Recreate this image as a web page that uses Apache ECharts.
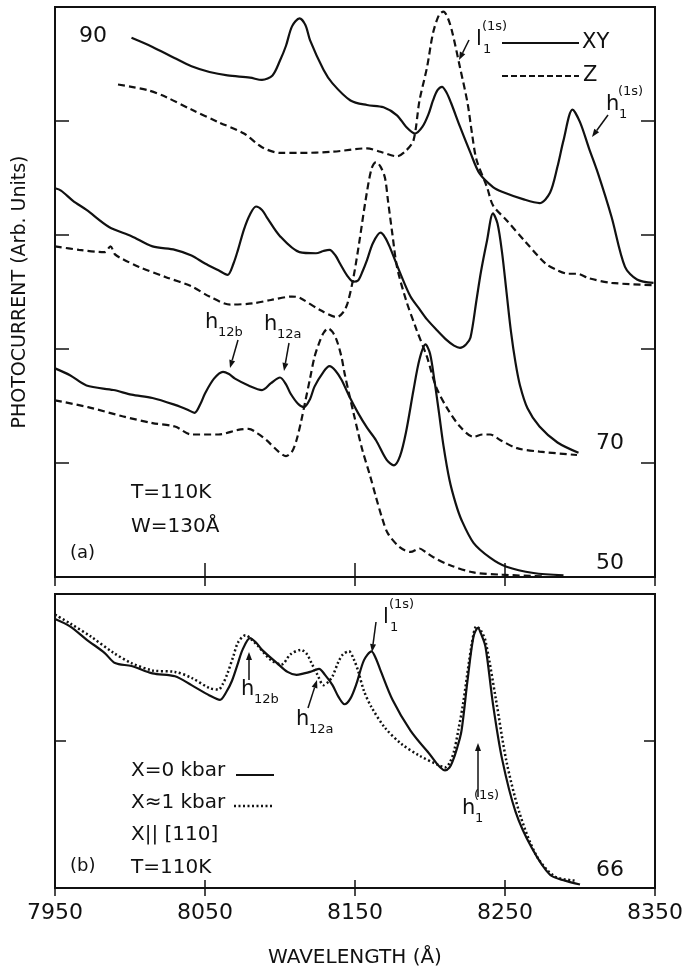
<!DOCTYPE html>
<html>
<head>
<meta charset="utf-8">
<script src="https://cdn.jsdelivr.net/npm/echarts@6/dist/echarts.min.js"></script>
<style>
html,body{margin:0;padding:0;background:#fff;}
#chartWrap{width:685px;height:968px;}
</style>
</head>
<body>
<div id="chartWrap"></div>
<script>
// wavelength axis (Å)
var xMin = 7950, xMax = 8350, xStep = 100;

// panel (a): photocurrent, XY (solid) and Z (dashed) for W = 90, 70, 50
var xy90 = [[8001,47.3],[8015,46.5],[8030,45.5],[8041,44.8],[8053,44.3],[8065,44.0],[8080,43.8],[8088,43.6],[8095,44.0],[8100,45.3],[8104,46.6],[8108,48.3],[8113,49.0],[8117,48.4],[8120,47.1],[8129,44.5],[8135,43.3],[8147,41.8],[8158,41.4],[8169,41.2],[8178,40.5],[8184,39.5],[8190,38.9],[8195,39.5],[8199,40.6],[8202,41.8],[8205,42.7],[8208,43.0],[8211,42.5],[8214,41.6],[8220,39.5],[8227,37.2],[8233,35.4],[8242,34.2],[8248,33.8],[8263,33.1],[8273,32.8],[8280,33.7],[8285,36.0],[8289,38.3],[8295,41.0],[8300,39.9],[8306,37.6],[8312,35.4],[8321,31.6],[8330,27.2],[8338,26.1],[8349,25.8]];
var z90 = [[7992,43.2],[8001,43.0],[8012,42.7],[8024,42.1],[8041,41.0],[8059,39.9],[8076,38.9],[8088,37.7],[8100,37.2],[8113,37.2],[8135,37.3],[8158,37.6],[8167,37.3],[8178,36.9],[8184,37.4],[8189,38.3],[8193,41.8],[8198,44.7],[8202,47.7],[8206,49.3],[8209,49.6],[8212,49.0],[8215,47.7],[8220,44.7],[8225,41.6],[8228,38.9],[8231,36.6],[8238,34.2],[8242,32.6],[8251,31.3],[8263,29.5],[8277,27.5],[8285,26.9],[8292,26.6],[8298,26.6],[8306,26.2],[8321,25.8],[8349,25.6]];
var xy70 = [[7950,34.1],[7954,33.9],[7962,33.0],[7971,32.2],[7986,30.7],[8001,29.9],[8015,29.0],[8030,28.7],[8041,28.2],[8050,27.5],[8059,26.9],[8065,26.5],[8069,27.5],[8072,28.7],[8076,30.5],[8080,31.8],[8084,32.5],[8088,32.2],[8091,31.6],[8100,29.9],[8113,28.5],[8124,28.4],[8129,28.6],[8133,28.7],[8137,28.2],[8140,27.5],[8145,26.4],[8149,25.9],[8152,26.0],[8155,26.8],[8158,27.8],[8162,29.3],[8167,30.2],[8170,29.8],[8173,29.0],[8180,26.7],[8187,24.6],[8193,23.5],[8198,22.6],[8205,21.6],[8211,20.8],[8216,20.3],[8220,20.1],[8224,20.4],[8227,21.0],[8231,24.3],[8234,26.8],[8238,29.5],[8242,31.9],[8245,31.0],[8248,28.5],[8251,25.0],[8254,21.5],[8257,18.8],[8260,16.8],[8265,14.8],[8273,13.2],[8285,11.8],[8299,10.9]];
var z70 = [[7950,29.0],[7966,28.7],[7983,28.5],[7987,29.0],[7990,28.3],[7995,27.9],[8006,27.2],[8024,26.3],[8041,25.5],[8053,24.6],[8067,23.9],[8082,24.0],[8094,24.3],[8108,24.6],[8113,24.5],[8127,23.4],[8138,22.8],[8142,23.2],[8145,24.0],[8149,26.3],[8153,29.5],[8157,33.0],[8161,35.8],[8164,36.4],[8167,36.0],[8170,35.0],[8172,33.0],[8175,30.0],[8178,27.2],[8184,24.3],[8191,21.7],[8198,19.3],[8204,16.7],[8211,14.9],[8220,13.2],[8229,12.3],[8235,12.5],[8240,12.5],[8247,12.0],[8258,11.3],[8273,11.0],[8298,10.7]];
var xy50 = [[7950,18.3],[7960,17.7],[7971,16.8],[7989,16.4],[8001,16.0],[8015,15.7],[8030,15.1],[8038,14.7],[8043,14.4],[8047,15.2],[8050,16.1],[8056,17.4],[8062,18.0],[8066,17.8],[8070,17.4],[8079,16.8],[8088,16.4],[8094,17.0],[8100,17.5],[8104,16.9],[8107,16.1],[8112,15.2],[8116,14.9],[8120,15.6],[8123,16.7],[8129,18.0],[8133,18.5],[8137,18.1],[8141,17.3],[8146,15.9],[8152,14.4],[8158,13.1],[8164,12.0],[8171,10.3],[8176,9.8],[8180,10.6],[8184,12.7],[8189,16.4],[8193,19.1],[8197,20.4],[8200,19.6],[8203,17.2],[8206,14.4],[8209,11.5],[8213,8.5],[8217,6.5],[8221,5.0],[8229,3.0],[8240,1.7],[8251,0.9],[8269,0.35],[8289,0.15]];
var z50 = [[7950,15.5],[7972,14.9],[7995,14.1],[8015,13.5],[8030,13.2],[8041,12.5],[8059,12.5],[8072,12.9],[8079,13.0],[8085,12.6],[8091,12.0],[8099,11.0],[8104,10.6],[8108,11.0],[8111,12.0],[8114,13.6],[8117,15.5],[8120,17.4],[8123,19.3],[8126,20.5],[8129,21.4],[8132,21.8],[8135,21.5],[8138,20.7],[8141,19.3],[8143,17.9],[8146,16.1],[8149,14.4],[8152,12.7],[8155,11.1],[8160,8.9],[8164,7.0],[8168,5.2],[8172,3.8],[8180,2.6],[8187,2.2],[8193,2.5],[8197,2.2],[8202,1.75],[8213,1.05],[8229,0.4],[8248,0.2],[8277,0.05]];

// panel (b): X = 0 kbar (solid), X ≈ 1 kbar (dotted)
var bar0 = [[7950,18.3],[7960,17.8],[7971,16.9],[7983,16.0],[7990,15.3],[8001,15.1],[8015,14.6],[8030,14.4],[8041,13.8],[8053,13.1],[8060,12.8],[8064,13.3],[8068,14.1],[8072,15.3],[8075,16.2],[8080,17.0],[8084,16.7],[8088,16.2],[8098,15.3],[8105,14.7],[8111,14.5],[8116,14.6],[8120,14.7],[8126,14.9],[8130,14.5],[8135,13.8],[8139,13.0],[8143,12.5],[8147,12.9],[8151,13.9],[8156,15.5],[8161,16.1],[8164,15.6],[8167,14.8],[8175,12.8],[8187,10.7],[8199,9.2],[8210,8.0],[8213,8.2],[8215,8.6],[8218,9.5],[8221,10.7],[8225,14.1],[8229,17.1],[8232,17.7],[8234,17.3],[8237,16.4],[8242,12.5],[8248,8.8],[8257,5.2],[8268,2.7],[8280,0.9],[8290,0.5],[8300,0.24]];
var bar1 = [[7950,18.6],[7960,18.0],[7974,17.1],[7989,16.0],[8001,15.3],[8015,14.8],[8030,14.7],[8041,14.3],[8053,13.6],[8059,13.5],[8062,13.9],[8065,14.6],[8069,15.8],[8072,16.7],[8077,17.2],[8081,16.9],[8085,16.5],[8094,15.5],[8101,15.2],[8107,15.9],[8114,16.2],[8118,15.9],[8121,15.3],[8125,14.5],[8129,13.8],[8132,14.0],[8135,14.4],[8139,15.4],[8142,15.9],[8146,16.1],[8149,15.6],[8152,14.8],[8156,13.4],[8161,12.3],[8170,10.9],[8181,9.8],[8193,9.0],[8205,8.4],[8210,8.2],[8213,8.5],[8216,9.3],[8219,10.8],[8222,12.5],[8228,16.7],[8231,17.8],[8234,17.5],[8237,16.8],[8244,12.8],[8251,8.6],[8260,5.0],[8271,2.2],[8283,0.8],[8297,0.5]];

var ink = '#111';
var fontFam = '"DejaVu Sans", sans-serif';

function txt(x, y, s, size, align) {
	return {
		type: 'text', x: x, y: y, silent: true,
		style: { text: s, font: size + 'px ' + fontFam, fill: ink, align: align || 'left', verticalAlign: 'middle' }
	};
}

// arrow from (x1,y1) to head at (x2,y2)
function arrow(x1, y1, x2, y2) {
	var dx = x2 - x1, dy = y2 - y1;
	var len = Math.sqrt(dx * dx + dy * dy);
	var ux = dx / len, uy = dy / len;
	var hl = 8, hw = 3;
	var bx = x2 - ux * hl, by = y2 - uy * hl;
	return [{
		type: 'line', silent: true,
		shape: { x1: x1, y1: y1, x2: bx, y2: by },
		style: { stroke: ink, lineWidth: 1.5 }
	}, {
		type: 'polygon', silent: true,
		shape: { points: [[x2, y2], [bx - uy * hw, by + ux * hw], [bx + uy * hw, by - ux * hw]] },
		style: { fill: ink }
	}];
}

// h / l with subscript and superscript
function label(x, y, main, sub, sup) {
	var w = main == 'l' ? 7 : 13;
	var out = [txt(x, y, main, 21)];
	if (sub) out.push(txt(x + w, y + 10, sub, 13));
	if (sup) out.push(txt(x + w - 1, y - 13, sup, 13));
	return out;
}

function xAxisDef(grid, pos, tickLen, showLabel) {
	return {
		type: 'value', gridIndex: grid, position: pos, min: xMin, max: xMax, interval: xStep,
		axisLine: { show: false },
		axisTick: { show: true, inside: true, length: tickLen, lineStyle: { color: ink, width: 1.5 } },
		axisLabel: { show: showLabel, margin: 14, color: ink, fontSize: 22, fontFamily: fontFam,
			formatter: function (v) { return String(v); } },
		splitLine: { show: false }
	};
}
function yAxisDef(grid, pos, max, tickLen) {
	return {
		type: 'value', gridIndex: grid, position: pos, min: 0, max: max, interval: 10,
		axisLine: { show: false },
		axisTick: { show: true, inside: true, length: tickLen, lineStyle: { color: ink, width: 1.5 } },
		axisLabel: { show: false },
		splitLine: { show: false }
	};
}

function lineSeries(data, xi, yi, dash, w) {
	return {
		type: 'line', data: data, xAxisIndex: xi, yAxisIndex: yi,
		showSymbol: false, smooth: 0.3, silent: true,
		lineStyle: { color: ink, width: w || 2.2, type: dash }
	};
}

var dom = document.getElementById('chartWrap');
var myChart = echarts.init(dom, null, { renderer: 'canvas' });

var xA = [
	xAxisDef(0, 'bottom', 14, false),
	xAxisDef(0, 'top', 9, false),
	xAxisDef(1, 'bottom', 8, true),
	xAxisDef(1, 'top', 8, false)
];
xA[2].name = 'WAVELENGTH (\u00c5)';
xA[2].nameLocation = 'middle';
xA[2].nameGap = 60;
xA[2].nameTextStyle = { color: ink, fontSize: 20, fontFamily: fontFam };

var yA = [
	yAxisDef(0, 'left', 50, 14),
	yAxisDef(0, 'right', 50, 14),
	yAxisDef(1, 'left', 20, 11),
	yAxisDef(1, 'right', 20, 11)
];
yA[0].name = 'PHOTOCURRENT (Arb. Units)';
yA[0].nameLocation = 'middle';
yA[0].nameGap = 25;
yA[0].nameTextStyle = { color: ink, fontSize: 19, fontFamily: fontFam };

var graphics = [];
// panel (a) texts
graphics.push(txt(79, 36, '90', 22));
graphics.push(txt(596, 443, '70', 22));
graphics.push(txt(596, 563, '50', 22));
graphics.push(txt(131, 493, 'T=110K', 20));
graphics.push(txt(131, 527, 'W=130\u00c5', 20));
graphics.push(txt(70, 553, '(a)', 18));
// legend (a)
graphics.push({ type: 'line', silent: true, shape: { x1: 502, y1: 43, x2: 579, y2: 43 }, style: { stroke: ink, lineWidth: 2 } });
graphics.push({ type: 'line', silent: true, shape: { x1: 502, y1: 76, x2: 579, y2: 76 }, style: { stroke: ink, lineWidth: 2, lineDash: [6, 3] } });
graphics.push(txt(582, 43, 'XY', 21));
graphics.push(txt(583, 76, 'Z', 21));
// annotations (a)
graphics = graphics.concat(label(205, 323, 'h', '12b'));
graphics = graphics.concat(arrow(238, 340, 230, 368));
graphics = graphics.concat(label(264, 325, 'h', '12a'));
graphics = graphics.concat(arrow(289, 343, 284, 371));
graphics = graphics.concat(label(476, 40, 'l', '1', '(1s)'));
graphics = graphics.concat(arrow(469, 40, 459, 60));
graphics = graphics.concat(label(606, 105, 'h', '1', '(1s)'));
graphics = graphics.concat(arrow(608, 115, 592, 137));

// panel (b) texts
graphics.push(txt(131, 771, 'X=0 kbar', 20));
graphics.push({ type: 'line', silent: true, shape: { x1: 236, y1: 775, x2: 274, y2: 775 }, style: { stroke: ink, lineWidth: 2 } });
graphics.push(txt(131, 803, 'X\u22481 kbar', 20));
graphics.push({ type: 'line', silent: true, shape: { x1: 234, y1: 806, x2: 274, y2: 806 }, style: { stroke: ink, lineWidth: 2.5, lineDash: [2, 2.5] } });
graphics.push(txt(131, 835, 'X|| [110]', 20));
graphics.push(txt(131, 868, 'T=110K', 20));
graphics.push(txt(70, 866, '(b)', 18));
graphics.push(txt(596, 870, '66', 22));
graphics = graphics.concat(label(241, 690, 'h', '12b'));
graphics = graphics.concat(arrow(249, 680, 249, 652));
graphics = graphics.concat(label(296, 720, 'h', '12a'));
graphics = graphics.concat(arrow(308, 708, 317, 680));
graphics = graphics.concat(label(383, 618, 'l', '1', '(1s)'));
graphics = graphics.concat(arrow(376, 622, 372, 652));
graphics = graphics.concat(label(462, 809, 'h', '1', '(1s)'));
graphics = graphics.concat(arrow(478, 797, 478, 743));

var option = {
	backgroundColor: '#fff',
	animation: false,
	grid: [
		{ left: 55, top: 7, width: 600, height: 570, show: true, borderColor: ink, borderWidth: 2,
			backgroundColor: 'transparent', containLabel: false, outerBoundsMode: 'none' },
		{ left: 55, top: 594, width: 600, height: 294, show: true, borderColor: ink, borderWidth: 2,
			backgroundColor: 'transparent', containLabel: false, outerBoundsMode: 'none' }
	],
	xAxis: xA,
	yAxis: yA,
	series: [
		lineSeries(xy90, 0, 0, 'solid'),
		lineSeries(z90, 0, 0, [7, 4]),
		lineSeries(xy70, 0, 0, 'solid'),
		lineSeries(z70, 0, 0, [7, 4]),
		lineSeries(xy50, 0, 0, 'solid'),
		lineSeries(z50, 0, 0, [7, 4]),
		lineSeries(bar0, 2, 2, 'solid'),
		lineSeries(bar1, 2, 2, [2, 2.5], 2.5)
	],
	graphic: graphics
};

if (option && typeof option === "object") {
	myChart.setOption(option, true);
}
</script>
</body>
</html>
